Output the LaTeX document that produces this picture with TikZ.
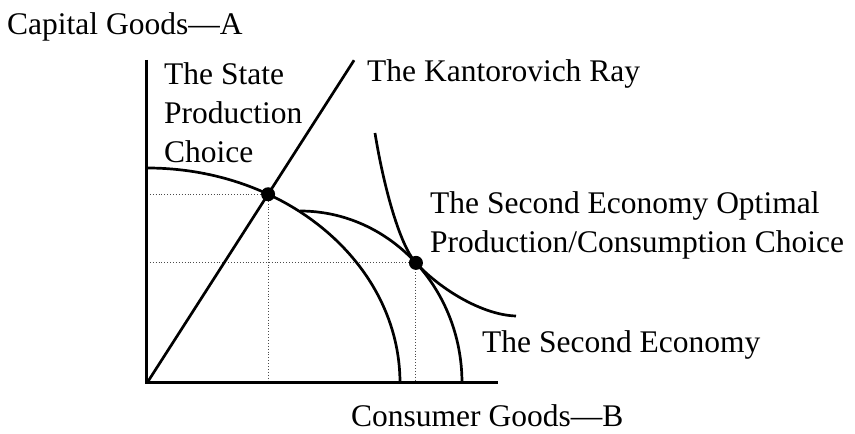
\documentclass[tikz,border=0pt]{standalone}
\usepackage{fontspec}
\setmainfont{Liberation Serif}
\usetikzlibrary{calc}

\begin{document}
\begin{tikzpicture}[x=1pt, y=1pt,
  every node/.style={font=\fontsize{31.5}{39}\selectfont, inner sep=0pt},
  lbl/.style={anchor=base west, align=left},
  axis/.style={line width=3pt},
  curve/.style={line width=2.7pt},
  guide/.style={dotted, line width=0.9pt, black!70},
  dot/.style={circle, fill=black, minimum size=14pt}]
\useasboundingbox (-147,-51) rectangle (708,383);
\coordinate (o) at (0,0);
\coordinate (ytop) at (0,323);
\coordinate (xend) at (351,0);
\coordinate (st) at (61.4:253 and 215);
\coordinate (se) at ($(153,0)+(44.3:162 and 172)$);
\foreach \p in {st,se} {
  \draw[guide] (o |- \p) -- (\p) -- (\p |- o);}
\draw[curve] (0,215) arc[start angle=90, end angle=0, x radius=253, y radius=215];
\draw[curve] (153,172) arc[start angle=90, end angle=0, x radius=162, y radius=172];
\draw[curve] (228,250) .. controls (236,200) and (252.1,138.4) .. (se)
  .. controls (292.7,94.2) and (335,68) .. (369,67);
\draw[curve] (o) -- ($(o)!1.71!(st)$);
\draw[axis] (ytop) -- (o) -- (xend);
\node[dot] (stdot) at (st) {};
\node[dot] (sedot) at (se) {};
\node[lbl] (yl) at (-140,348) {Capital Goods---A};
\node[lbl] (xl) at (204,-44) {Consumer Goods---B};
\node[lbl] (state) at (17,220) {The State\\Production\\Choice};
\node[lbl] (ray) at (220,301) {The Kantorovich Ray};
\node[lbl] (opt) at (283,130) {The Second Economy Optimal\\Production/Consumption Choice};
\node[lbl] (ppf) at (335,30) {The Second Economy};
\end{tikzpicture}
\end{document}
